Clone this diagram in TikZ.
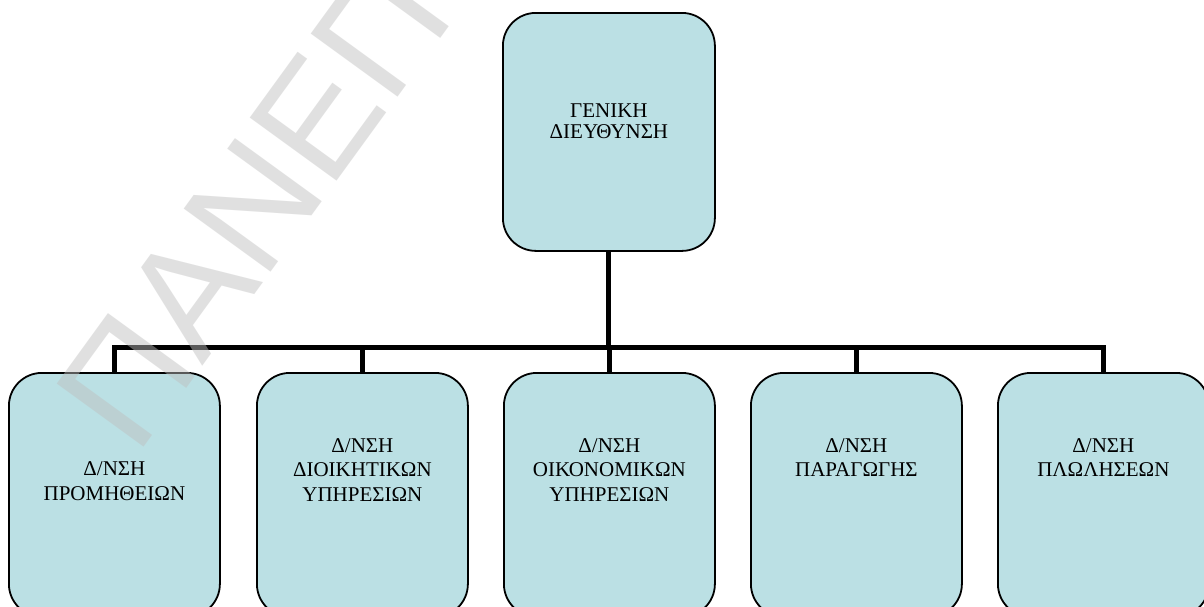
\documentclass[tikz,border=0pt]{standalone}
\usepackage{fontspec}
\setmainfont{Liberation Serif}
\newfontfamily\wmfont{Liberation Sans}
\definecolor{boxfill}{RGB}{187,224,228}
\definecolor{wmgray}{RGB}{191,191,191}

\begin{document}
\begin{tikzpicture}[x=1pt,y=-1pt,
  unitbox/.style={draw=black, line width=1.8pt, fill=boxfill,
    rounded corners=33pt, inner sep=0pt, anchor=north west,
    minimum width=211pt, minimum height=244pt},
  headbox/.style={unitbox, minimum width=212pt, minimum height=238pt},
  lbl/.style={font=\fontsize{21}{24.5}\selectfont, align=center,
    inner sep=0pt, anchor=north},
  headlbl/.style={lbl, font=\fontsize{21}{21}\selectfont},
  conn/.style={line width=5pt, line join=miter},
  wm/.style={font=\wmfont\fontsize{156}{156}\selectfont, text=wmgray,
    text opacity=0.47, rotate=54, anchor=base west, inner sep=0pt}]

\useasboundingbox (0,0) rectangle (1204,606);
\fill[white] (0,0) rectangle (1204,606);
\clip (0,0) rectangle (1204,606);

% boxes
\node[headbox] (top) at (502,12) {};
\node[unitbox] (b1) at (8,372) {};
\node[unitbox] (b2) at (256,372) {};
\node[unitbox] (b3) at (503,372) {};
\node[unitbox] (b4) at (750,372) {};
\node[unitbox] (b5) at (997,372) {};

% labels
\node[headlbl] (t0) at (top.north |- 0,103.3) {ΓΕΝΙΚΗ\\ΔΙΕΥΘΥΝΣΗ};
\node[lbl] (t1) at (b1.north |- 0,461.7) {Δ/ΝΣΗ\\ΠΡΟΜΗΘΕΙΩΝ};
\node[lbl] (t2) at (b2.north |- 0,438.3) {Δ/ΝΣΗ\\ΔΙΟΙΚΗΤΙΚΩΝ\\ΥΠΗΡΕΣΙΩΝ};
\node[lbl] (t3) at (b3.north |- 0,438.3) {Δ/ΝΣΗ\\ΟΙΚΟΝΟΜΙΚΩΝ\\ΥΠΗΡΕΣΙΩΝ};
\node[lbl] (t4) at (b4.north |- 0,438.3) {Δ/ΝΣΗ\\ΠΑΡΑΓΩΓΗΣ};
\node[lbl] (t5) at (b5.north |- 0,438.3) {Δ/ΝΣΗ\\ΠΛΩΛΗΣΕΩΝ};

% connectors
\coordinate (bar) at (top.south |- 0,347.5);
\draw[conn] (top.south) -- (bar);
\draw[conn] (b1.north) |- (bar) -| (b5.north);
\foreach \b in {b2,b3,b4} \draw[conn] (\b.north) -- (\b.north |- bar);

% watermark
\node[wm] (mark) at (136,458) {ΠΑΝΕΠ};
\end{tikzpicture}
\end{document}
